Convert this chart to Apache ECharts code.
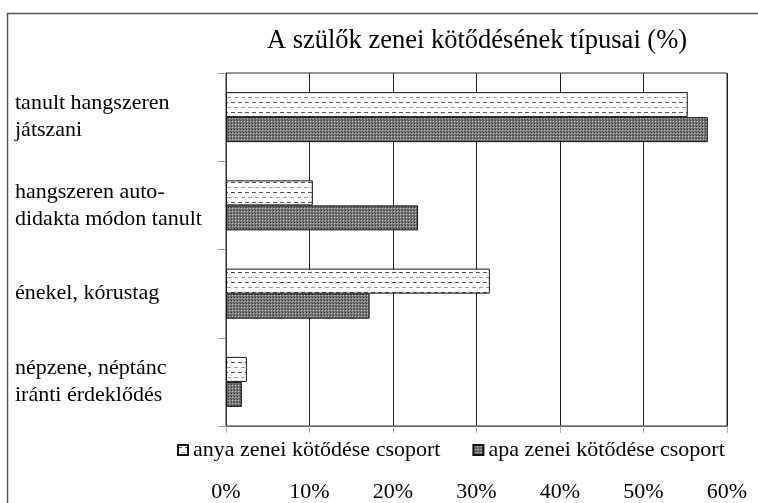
<!DOCTYPE html>
<html><head><meta charset="utf-8">
<script src="https://cdn.jsdelivr.net/npm/echarts@6/dist/echarts.min.js"></script>
<style>html,body{margin:0;padding:0;background:#fff}#c{width:758px;height:503px}</style>
</head><body><div id="c"></div>
<script>
const categories = ["tanult hangszeren\njátszani", "hangszeren auto-\ndidakta módon tanult", "énekel, kórustag", "népzene, néptánc\niránti érdeklődés"];
const anyaValues = [55.3, 10.4, 31.6, 2.5];
const apaValues = [57.7, 23.0, 17.2, 1.9];
const tickLabels = ["0%", "10%", "20%", "30%", "40%", "50%", "60%"];
const seriesNames = ["anya zenei kötődése csoport", "apa zenei kötődése csoport"];
const titleText = "A szülők zenei kötődésének típusai (%)";

function dashPattern() {
  const c = document.createElement('canvas');
  c.width = 7; c.height = 10;
  const g = c.getContext('2d');
  g.fillStyle = '#fff'; g.fillRect(0, 0, 7, 10);
  g.fillStyle = '#555'; g.fillRect(0, 2, 4, 1);
  g.fillStyle = '#999'; g.fillRect(3, 7, 4, 1);
  return c;
}
function dotPattern() {
  const c = document.createElement('canvas');
  c.width = 3; c.height = 3;
  const g = c.getContext('2d');
  g.fillStyle = '#7a7a7a'; g.fillRect(0, 0, 3, 3);
  g.fillStyle = '#333'; g.fillRect(0, 0, 1, 1);
  g.fillStyle = '#c8c8c8'; g.fillRect(1, 1, 1, 1);
  g.fillStyle = '#555'; g.fillRect(2, 2, 1, 1);
  return c;
}
const FONT = '"Liberation Serif", "DejaVu Serif", serif';
const chart = echarts.init(document.getElementById('c'));
chart.setOption({
  animation: false,
  backgroundColor: '#fff',
  title: {
    text: titleText, left: 472, top: 23, textAlign: 'center',
    textStyle: { fontFamily: FONT, fontSize: 26.5, fontWeight: 'normal', color: '#000' }
  },
  graphic: [{
    type: 'rect', shape: { x: 7.5, y: 13.5, width: 800, height: 600 },
    style: { fill: 'none', stroke: '#555', lineWidth: 1.5 }, z: -1
  }],
  legend: {
    left: 172, top: 434, itemWidth: 10, itemHeight: 10, itemGap: 32, icon: 'rect',
    textStyle: { fontFamily: FONT, fontSize: 22, color: '#000' },
    data: seriesNames
  },
  grid: { left: 226, right: 31, top: 73, bottom: 77, show: true, borderColor: '#333', borderWidth: 1 },
  xAxis: {
    type: 'value', min: 0, max: 60, interval: 10,
    axisLine: { show: true, lineStyle: { color: '#666' } },
    axisTick: { show: true, length: 7, lineStyle: { color: '#aaa' } },
    splitLine: { show: true, lineStyle: { color: '#222', width: 1 } },
    axisLabel: {
      margin: 55, fontFamily: FONT, fontSize: 22, color: '#000',
      formatter: (v) => tickLabels[Math.round(v / 10)]
    }
  },
  yAxis: {
    type: 'category', data: categories, inverse: true,
    axisLine: { show: true, lineStyle: { color: '#333' } },
    axisTick: { show: true, length: 8, lineStyle: { color: '#999' } },
    axisLabel: { align: 'left', margin: 211, fontFamily: FONT, fontSize: 22, lineHeight: 27, color: '#000' }
  },
  series: [
    { name: seriesNames[0], type: 'bar', data: anyaValues, barWidth: 25, barGap: '0%',
      itemStyle: { color: { image: dashPattern(), repeat: 'repeat' }, borderColor: '#111', borderWidth: 1 } },
    { name: seriesNames[1], type: 'bar', data: apaValues, barWidth: 25, barGap: '0%',
      itemStyle: { color: { image: dotPattern(), repeat: 'repeat' }, borderColor: '#111', borderWidth: 1 } }
  ]
});
</script></body></html>
